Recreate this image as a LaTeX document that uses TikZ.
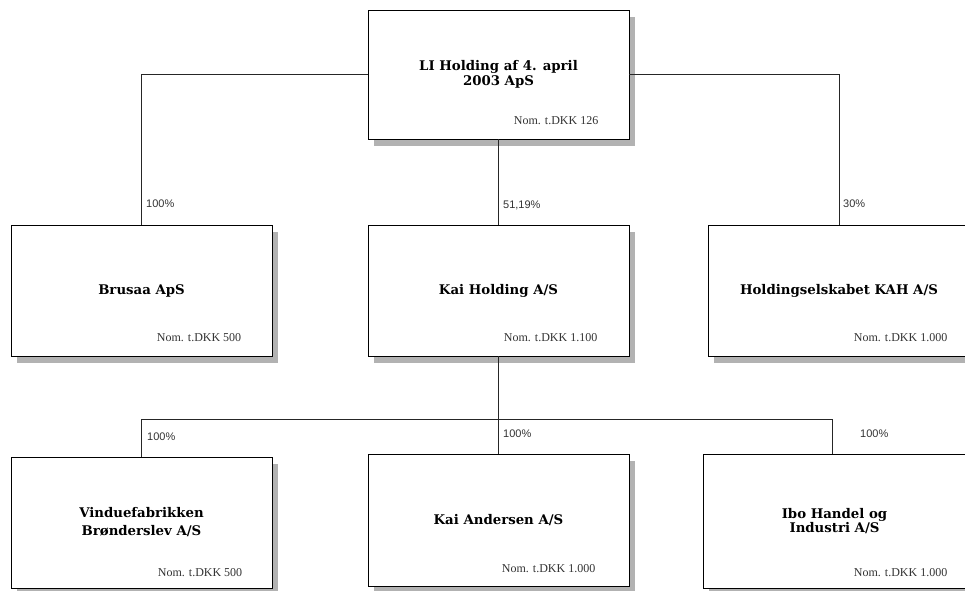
\documentclass[tikz,border=0pt]{standalone}
\usepackage{fontspec}
\usetikzlibrary{shadows,calc}
\newfontfamily\ttlfont{DejaVu Serif}
\newfontfamily\nomfont{Liberation Serif}
\newfontfamily\pctfont{Liberation Sans}
\begin{document}
\begin{tikzpicture}[x=1pt,y=1pt,
  box/.style={draw=black, line width=0.9pt, fill=white, inner sep=0pt,
    minimum width=261pt, minimum height=131pt, align=center,
    font=\ttlfont\bfseries\fontsize{13.3}{15.5}\selectfont,
    drop shadow={shadow xshift=6pt, shadow yshift=-7pt, fill=black!30, opacity=1}},
  nom/.style={anchor=east, inner sep=0pt, text=black!80, font=\nomfont\fontsize{12}{14}\selectfont},
  pct/.style={anchor=west, inner sep=0pt, text=black!80, font=\pctfont\fontsize{11}{13}\selectfont},
  link/.style={draw=black!85, line width=0.8pt}]
\useasboundingbox[fill=white] (0,0) rectangle (965,590);
% boxes (y = 590 - pixel y)
\node[box, minimum height=129pt] (top) at (498.5,515.5) {LI Holding af 4. april\\2003 ApS};
\node[box] (brusaa) at (141.5,299.5) {Brusaa ApS};
\node[box] (kh) at (498.5,299.5) {Kai Holding A/S};
\node[box, minimum width=262pt] (kah) at (839,299.5) {Holdingselskabet KAH A/S};
\node[box, font=\ttlfont\bfseries\fontsize{13.3}{18}\selectfont] (vind) at (141.5,67.5) {Vinduefabrikken\\Brønderslev A/S};
\node[box, minimum height=132pt] (ka) at (498.5,70) {Kai Andersen A/S};
\node[box, minimum width=263pt, minimum height=134pt, font=\ttlfont\bfseries\fontsize{13.3}{14.5}\selectfont] (ibo) at (834.5,69) {Ibo Handel og\\Industri A/S};
% nominal values
\node[nom] (ntop) at ($(top.south east)+(-31,19)$) {Nom. t.DKK 126};
\node[nom] (nbru) at ($(brusaa.south east)+(-31,19)$) {Nom. t.DKK 500};
\node[nom] (nkh) at ($(kh.south east)+(-32,19)$) {Nom. t.DKK 1.100};
\node[nom] (nkah) at ($(kah.south east)+(-23,19)$) {Nom. t.DKK 1.000};
\node[nom] (nvind) at ($(vind.south east)+(-30,16)$) {Nom. t.DKK 500};
\node[nom] (nka) at ($(ka.south east)+(-34,18)$) {Nom. t.DKK 1.000};
\node[nom] (nibo) at ($(ibo.south east)+(-19,16)$) {Nom. t.DKK 1.000};
% connectors
\draw[link] (top.west) -| (brusaa.north);
\draw[link] (top.east) -| (kah.north);
\draw[link] (top.south) -- (kh.north);
\coordinate (bus) at ($(kh.south)+(0,-63)$);
\coordinate (ibotop) at ($(ibo.north west)+(130,0)$);
\draw[link] (kh.south) -- (bus);
\draw[link] (vind.north) |- (bus) -| (ibotop);
\draw[link] (bus) -- (ka.north);
% percentages
\node[pct] (p1) at (146,386) {100\%};
\node[pct] (p2) at (503,385) {51,19\%};
\node[pct] (p3) at (843,386) {30\%};
\node[pct] (p4) at (147,153) {100\%};
\node[pct] (p5) at (503,156) {100\%};
\node[pct] (p6) at (860,156) {100\%};
\end{tikzpicture}
\end{document}
